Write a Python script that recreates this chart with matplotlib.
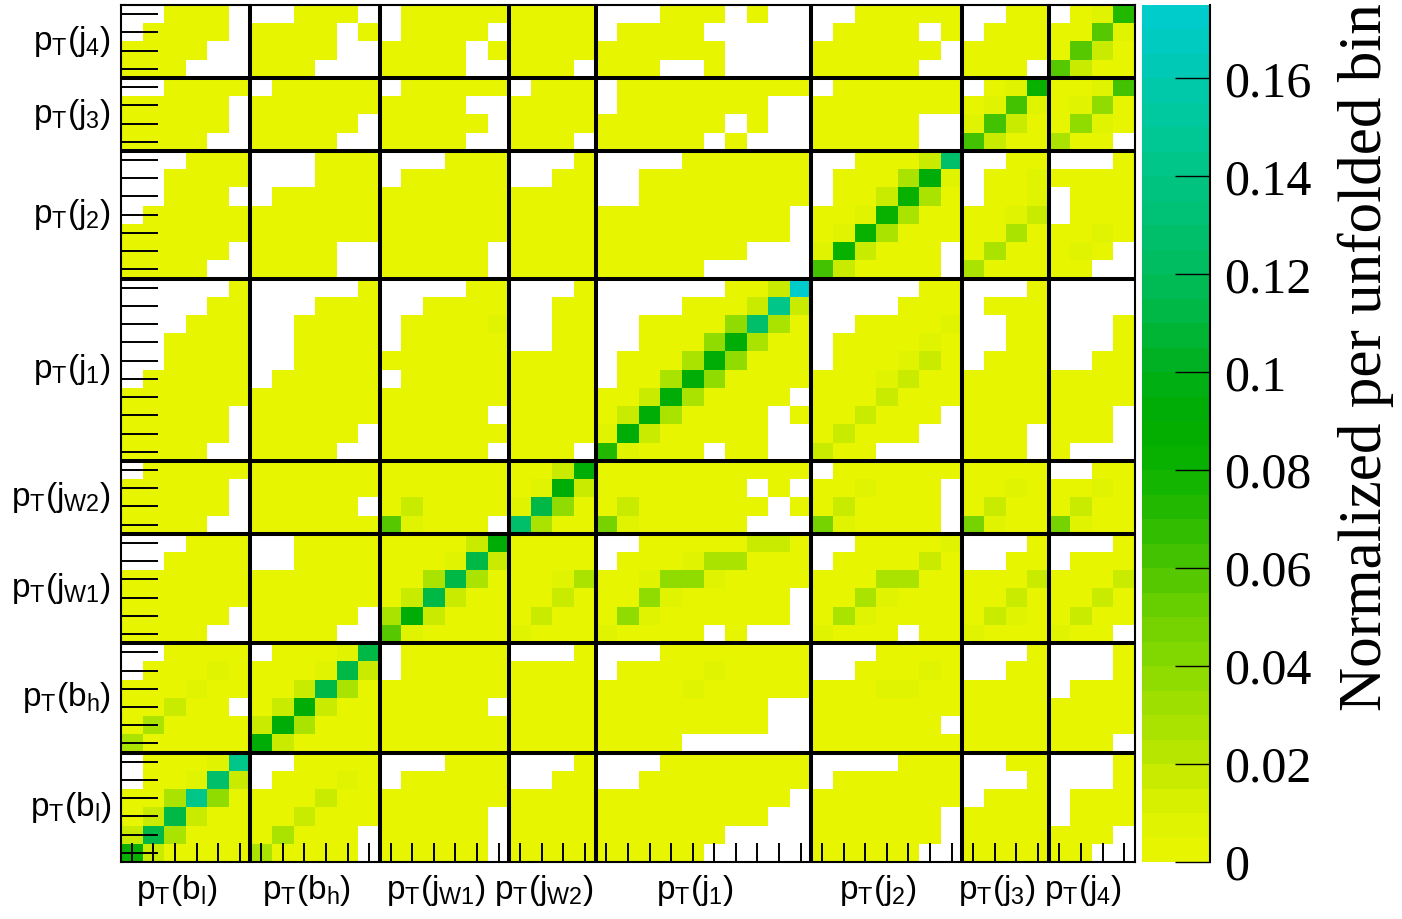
import numpy as np
import matplotlib
matplotlib.use('Agg')
import matplotlib.pyplot as plt
from matplotlib.colors import LinearSegmentedColormap, BoundaryNorm

plt.rcParams['font.family'] = ['Liberation Sans', 'DejaVu Sans']
plt.rcParams['mathtext.default'] = 'regular'

# blocks of the unfolded vector, left to right / bottom to top
block_bins = [6, 6, 6, 4, 10, 7, 4, 4]
block_labels = ['p$_{T}$(b$_{l}$)', 'p$_{T}$(b$_{h}$)', 'p$_{T}$(j$_{W1}$)', 'p$_{T}$(j$_{W2}$)',
                'p$_{T}$(j$_{1}$)', 'p$_{T}$(j$_{2}$)', 'p$_{T}$(j$_{3}$)', 'p$_{T}$(j$_{4}$)']

# cell codes -> value ('.' = empty bin)
level_codes = 'abdefghijklmnopq'
level_values = [0.002, 0.008, 0.019, 0.029, 0.039, 0.047, 0.055, 0.063,
                0.072, 0.082, 0.091, 0.112, 0.126, 0.14, 0.155, 0.172]

# rows top to bottom inside each block, columns grouped per block
rows_j4 = [
    "..aaa. ..aaa. .aaaaa aaaa ...aaa.a.. ..aaaaa ..aa .abj",
    ".aaaa. aaaa.a .aaaa. aaaa .aaaa..... .aaaa.a .aaa aahb",
    "aaaa.. aaaa.. aaaa.a aaaa aaaaaa.... aaaaaa. aaaa ahda",
    "aaa... aaa... aaaa.. aaa. aaa..a.... aaaaa.. aaa. hdaa",
]
rows_j3 = [
    "..aaaa .aaaaa .aaaaa .aaa .aaaaaaaaa .aaaaaa .abk aabi",
    "aaaaa. aaaaaa aaaa.. aaaa .aaaaaaa.. aaaaaaa abib abfa",
    "aaaaa. aaaaa. aaaaa. aaaa aaaaaa.a.. aaaaa.. bida afba",
    "aaaa.. aaaa.. aaaa.. aaa. aaaaa.a... aaaaa.. idaa eaa.",
]
rows_j2 = [
    "...aaa ...aaa ...aaa ...a ....aaaaaa ..aaadn ..aa ...a",
    "..aaaa ...aaa .aaaaa ..aa ..aaaaaaaa .aaaelb .aab aaaa",
    "..aaa. .aaaaa aaaaaa aaaa ..aaaaaaaa .aadkea .aab .aaa",
    ".aaaaa aaaaaa aaaaaa aaaa aaaaaaaaa. aabkeaa aabd .aaa",
    "aaaaaa aaaaaa aaaaaa aaaa aaaaaaaaa. abkeaaa aaea aaba",
    "aaaaa. aaaa.. aaaaa. aaaa aaaaaaa... bkdaaa. aeaa aba.",
    "aaaa.. aaaa.. aaaaa. aaaa aaaaa..... idaaaa. eaaa aa..",
]
rows_j1 = [
    ".....a .....a ....aa ...a ......aadq .....aa ...a ....",
    "....aa ...aaa ..aaaa ..aa ....aaadod ....aaa .aaa ....",
    "...aaa ..aaaa .aaaab ..aa ..aaaafnea ..aaaab ..aa ...a",
    "..aaaa ..aaaa .aaaaa ..aa ..aaafleaa .aaaaba ..aa ...a",
    "..aaaa ..aaaa aaaaaa aaaa .aaaelfaaa .aaabda .aaa ..aa",
    ".aaaaa .aaaaa .aaaaa aaaa .aaelfaaaa aaabdaa aaaa aaaa",
    "aaaaaa aaaaaa aaaaaa aaaa aadleaaaa. aaadaaa aaaa aaaa",
    "aaaaa. aaaaaa aaaaa. aaaa adleaaaa.a aadaaa. aaaa aaa.",
    "aaaaa. aaaaa. aaaaaa aaaa bldaaaaa.. adaaa.. aaa. aaa.",
    "aaaa.. aaaa.. aaaaa. aaa. jbaaa.aa.. daa.... aaa. a...",
]
rows_jw2 = [
    ".aaaaa aaaaaa aaaaaa aadl aaaaaaaaaa .aaaaaa aaaa ..aa",
    "aaaaa. aaaaaa aaaaaa abld aaaaaaa.a. aabaaa. aaba aaba",
    "aaaaa. aaaaa. adaaaa bmfa adaaaaaa.a adaaaa. adaa adaa",
    "aaaa.. aaaaaa hbaaa. neaa gbaaaaa... gbaaaa. gbaa gbaa",
]
rows_jw1 = [
    "...aaa ..aaaa aaaadl aaaa ..aaaaadda ..aaaab ...a ...a",
    "..aaaa ..aaaa aaabmd aaaa .aaabeeaaa .aaaada ..aa .aaa",
    "aaaaaa aaaaaa aaemea aabe aabffbaaaa aaaeeaa aaad aaad",
    "aaaaaa aaaaaa admdaa aada aafbaaaaa. aaebaaa aada aada",
    "aaaaa. aaaaa. eldaaa adaa afbaaaaaa. aebaaaa adba adaa",
    "aaaa.. aaaa.. hbaaaa baaa baaaa.a... baaa.aa baaa baa.",
]
rows_bh = [
    "..aaaa .aaabm .aaaaa ...a ...aaaaaaa ...aaaa ...a ...a",
    ".aaaba aaabmd .aaaaa aaaa .aaaabaaaa ..aaaba ..aa ...a",
    "aaabaa aadmea aaaaaa aaaa aaaabaaaaa aaabbaa aaaa .aaa",
    "aadaa. adldaa aaaaa. aaaa aaaaaaaa.. aaaaaaa aaaa aaaa",
    "aeaaaa dleaaa aaaaaa aaaa aaaaaaaa.. aaaaaa. aaaa aaaa",
    "eaaaaa ldaaaa aaaaaa aaaa aaaa...... aaaaaaa aaaa aaa.",
]
rows_bl = [
    ".aaabo ..aaaa ...aaa ...a ...aaaaaaa ....aaa ..aa ...a",
    ".aabnd .aaaba .aaaaa ..aa ..aaaaaaaa .aaaaaa ...a ...a",
    "aaeofa aaadaa aaaaaa aaaa aaaaaaaaa. aaaaaaa .aaa .aaa",
    "admdaa aadaaa aaaaa. aaaa aaaaaaaa.. aaaaaa. aaaa .aaa",
    "dmeaaa aeaaa. aaaaa. aaaa aaaaaa.... aaaaaa. aaaa aaa.",
    "kdaaaa eaaaa. aaaaa. aaaa aaaaa..... aaaaa.. aaaa aa..",
]


def decode(row):
    s = row.replace(' ', '')
    return [np.nan if c == '.' else level_values[level_codes.index(c)] for c in s]


all_rows = rows_j4 + rows_j3 + rows_j2 + rows_j1 + rows_jw2 + rows_jw1 + rows_bh + rows_bl
mat = np.array([decode(r) for r in all_rows[::-1]])
n = sum(block_bins)

# yellow -> green -> cyan palette, 35 contours
nodes = [(0.000, (232, 245, 0)), (0.010, (216, 240, 0)), (0.020, (184, 230, 0)),
         (0.030, (160, 224, 0)), (0.040, (132, 216, 0)), (0.050, (108, 208, 0)),
         (0.060, (72, 196, 0)), (0.070, (40, 186, 0)), (0.080, (10, 178, 0)),
         (0.090, (0, 172, 0)), (0.100, (0, 176, 24)), (0.110, (0, 182, 60)),
         (0.120, (0, 188, 90)), (0.135, (0, 194, 120)), (0.150, (0, 200, 150)),
         (0.175, (0, 204, 204))]
vmax = 0.175
cmap = LinearSegmentedColormap.from_list(
    'yg', [(v / vmax, tuple(c / 255 for c in rgb)) for v, rgb in nodes])
cmap.set_bad('white')
norm = BoundaryNorm(np.linspace(0, vmax, 36), cmap.N)

fig = plt.figure(figsize=(14.02, 9.19), dpi=100)
ax = fig.add_axes([121 / 1402, 57 / 919, 1014 / 1402, 857 / 919])
edges = np.arange(n + 1)
mesh = ax.pcolormesh(edges, edges, np.ma.masked_invalid(mat), cmap=cmap, norm=norm)
ax.set_xlim(0, n)
ax.set_ylim(0, n)

# block separators
bounds = np.cumsum(block_bins)[:-1]
for b in bounds:
    ax.axvline(b, color='black', lw=2.9)
    ax.axhline(b, color='black', lw=2.9)
for s in ax.spines.values():
    s.set_linewidth(1.5)

ax.set_xticks(np.arange(n) + 0.5)
ax.set_yticks(np.arange(n) + 0.5)
ax.set_xticklabels([])
ax.set_yticklabels([])
ax.tick_params(axis='x', direction='in', length=13.5, width=1.4, top=False)
ax.tick_params(axis='y', direction='in', length=26.5, width=1.4, right=False)

# block labels
starts = np.concatenate([[0], np.cumsum(block_bins)[:-1]])
for st, nb, lab in zip(starts, block_bins, block_labels):
    c = st + nb / 2
    ax.text(c - 0.4, -0.6, lab, ha='center', va='top', fontsize=24,
            transform=ax.transData)
    ax.text(-0.45, c, lab, ha='right', va='center', fontsize=24,
            transform=ax.transData)

# colour scale
cax = fig.add_axes([1142 / 1402, 57 / 919, 68 / 1402, 857 / 919])
cb = fig.colorbar(mesh, cax=cax)
cb.outline.set_visible(False)
cb.set_ticks([0, 0.02, 0.04, 0.06, 0.08, 0.1, 0.12, 0.14, 0.16])
cb.set_ticklabels(['0', '0.02', '0.04', '0.06', '0.08', '0.1', '0.12', '0.14', '0.16'])
cax.minorticks_off()
cax.tick_params(direction='in', length=25, width=1, labelsize=36, pad=10)
for t in cax.get_yticklabels():
    t.set_family('Liberation Serif')
cax.plot([1, 1], [0, 1], transform=cax.transAxes, color='black', lw=1.5, clip_on=False)
fig.text(1366 / 1402, 0.997, 'Normalized per unfolded bin', rotation=90,
         ha='center', va='top', fontsize=44, family='Liberation Serif')

fig.savefig('out.png', dpi=100)
